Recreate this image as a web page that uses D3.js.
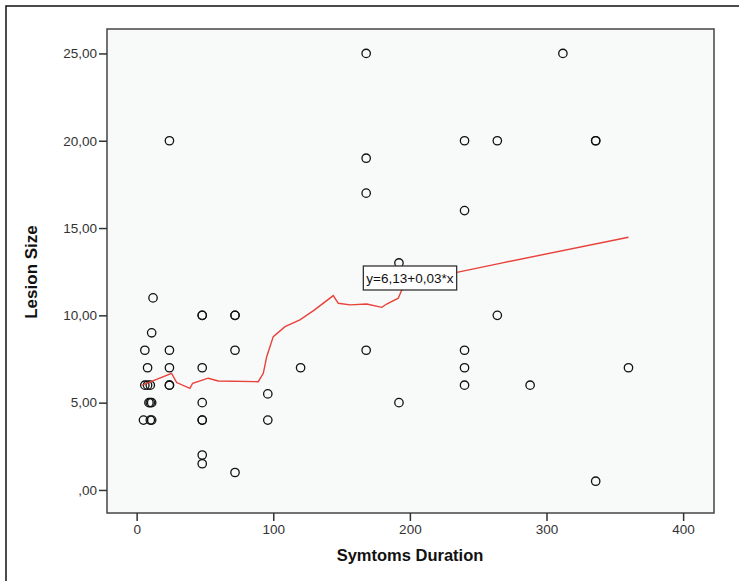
<!DOCTYPE html>
<html><head><meta charset="utf-8">
<script src="https://cdn.jsdelivr.net/npm/d3@7"></script>
<style>html,body{margin:0;padding:0;background:#fff;}svg{display:block;}</style>
</head><body>
<svg id="c" width="739" height="581"></svg>
<script>
const durations = [6,8,6,8,10,9,10,11,5,10,11,11,12,
  24,24,24,24,24,
  48,48,48,48,48,48,48,48,
  72,72,72,72,
  96,96,120,
  168,168,168,168,
  192,192,
  240,240,240,240,240,
  264,264,288,312,336,336,336,360];
const sizes = [8,7,6,6,6,5,5,5,4,4,4,9,11,
  20,8,7,6,6,
  10,10,7,5,4,4,2,1.5,
  10,10,8,1,
  5.5,4,7,
  25,19,17,8,
  13,5,
  20,16,8,7,6,
  20,10,6,25,20,20,0.5,7];
const fitX = [4,25.6,29.3,39,41,52.4,59.8,89,92.7,95.2,100,108.6,119.5,130,143.9,147.6,156.2,168.4,179.4,183,191.5,194,233.5,266,360];
const fitY = [6.0,6.68,6.15,5.82,6.11,6.4,6.24,6.2,6.68,7.63,8.78,9.35,9.74,10.3,11.13,10.69,10.6,10.65,10.46,10.65,10.98,11.45,12.45,12.98,14.47];
const xTicks = [0,100,200,300,400];
const yTicks = [0,5,10,15,20,25];
const fitLabel = "y=6,13+0,03*x";
const xTitle = "Symtoms Duration";
const yTitle = "Lesion Size";

const svg = d3.select("#c");
const L=107, R=714, T=29, B=513;
const x = d3.scaleLinear().domain([-21.7,422.6]).range([L,R]);
const y = d3.scaleLinear().domain([-1.32,26.4]).range([B,T]);
const font = "'Liberation Sans', Arial, sans-serif";

// outer frame
svg.append("path").attr("d","M6,581 V6 H739").attr("fill","none").attr("stroke","#111").attr("stroke-width",1.5);

// plot background
svg.append("rect").attr("x",L).attr("y",T).attr("width",R-L).attr("height",B-T)
  .attr("fill","#f8f9f9").attr("stroke","#444").attr("stroke-width",1.5);

// axes
const fmtY = d => d===0 ? ",00" : d.toFixed(2).replace(".",",");
const gy = svg.append("g").attr("transform",`translate(${L},0)`)
  .call(d3.axisLeft(y).tickValues(yTicks).tickFormat(fmtY).tickSize(8).tickPadding(2));
const gx = svg.append("g").attr("transform",`translate(0,${B})`)
  .call(d3.axisBottom(x).tickValues(xTicks).tickFormat(d3.format("d")).tickSize(8).tickPadding(3));
[gx,gy].forEach(g=>{
  g.select(".domain").remove();
  g.selectAll(".tick line").attr("stroke","#333").attr("stroke-width",1.5);
  g.selectAll(".tick text").attr("fill","#333").style("font-family",font).style("font-size","13.5px");
});

// points
svg.append("g").selectAll("circle").data(durations.map((d,i)=>[d,sizes[i]])).join("circle")
  .attr("cx",d=>x(d[0])).attr("cy",d=>y(d[1])).attr("r",4.2)
  .attr("fill","none").attr("stroke","#111").attr("stroke-width",1.3);

// fit line
svg.append("path").datum(fitX.map((d,i)=>[d,fitY[i]]))
  .attr("d",d3.line().x(d=>x(d[0])).y(d=>y(d[1])))
  .attr("fill","none").attr("stroke","#e8413a").attr("stroke-width",1.4);

// fit label box
const lbx = x(200), lby = y(12.14);
const lg = svg.append("g");
const lt = lg.append("text").attr("x",lbx).attr("y",lby).attr("text-anchor","middle").attr("dy","0.35em")
  .style("font-family",font).style("font-size","13.5px").attr("fill","#111").text(fitLabel);
const bb = lt.node().getBBox();
lg.insert("rect","text").attr("x",bb.x-3).attr("y",lby-12).attr("width",bb.width+6).attr("height",24)
  .attr("fill","#fff").attr("stroke","#333").attr("stroke-width",1.3);

// titles
svg.append("text").attr("x",410).attr("y",561).attr("text-anchor","middle")
  .style("font-family",font).style("font-size","16.5px").style("font-weight","bold").attr("fill","#111").text(xTitle);
svg.append("text").attr("transform",`translate(37,272) rotate(-90)`).attr("text-anchor","middle")
  .style("font-family",font).style("font-size","17px").style("font-weight","bold").attr("fill","#111").text(yTitle);
</script>
</body></html>
